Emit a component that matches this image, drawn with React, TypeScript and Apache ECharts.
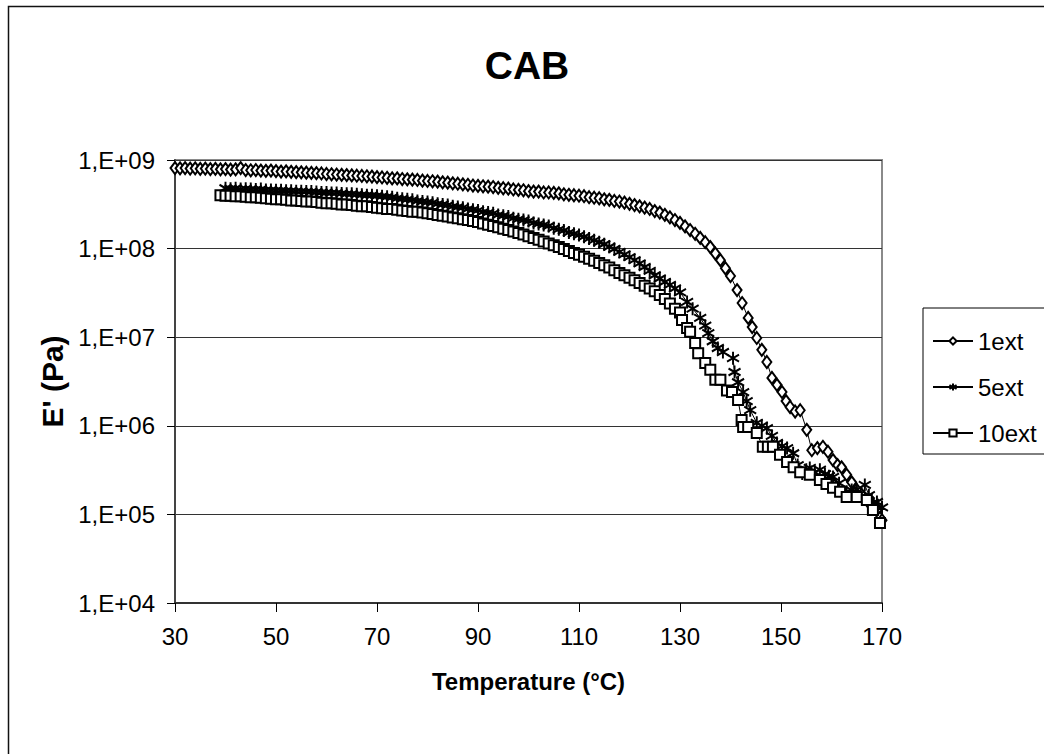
import React, { useEffect, useRef } from 'react';
import * as echarts from 'echarts';

const xTickValues = [30, 50, 70, 90, 110, 130, 150, 170];
const yTickValues = [1e4, 1e5, 1e6, 1e7, 1e8, 1e9];
const yTickLabels = ['1,E+04', '1,E+05', '1,E+06', '1,E+07', '1,E+08', '1,E+09'];
const seriesNames = ['1ext', '5ext', '10ext'];

// [temperature °C, E' Pa]
const oneExt: [number, number][] = [
  [30, 8.1e8], [31, 8.05e8], [32, 8.1e8], [33, 8.0e8], [34, 8.05e8], [35, 7.95e8], [36, 8.0e8], [37, 7.9e8], [38, 7.95e8], [39, 7.85e8],
  [40, 7.9e8], [41, 7.8e8], [42, 7.85e8], [43, 8.1e8], [44, 7.7e8], [45, 7.65e8], [46, 7.7e8], [47, 7.6e8], [48, 7.55e8], [49, 7.6e8],
  [50, 7.5e8], [51, 7.4e8], [52, 7.45e8], [53, 7.35e8], [54, 7.3e8], [55, 7.25e8], [56, 7.2e8], [57, 7.15e8], [58, 7.1e8], [59, 7.05e8],
  [60, 6.95e8], [61, 6.9e8], [62, 6.85e8], [63, 6.8e8], [64, 6.75e8], [65, 6.7e8], [66, 6.65e8], [67, 6.6e8], [68, 6.55e8], [69, 6.5e8],
  [70, 6.4e8], [71, 6.35e8], [72, 6.3e8], [73, 6.2e8], [74, 6.2e8], [75, 6.1e8], [76, 6.05e8], [77, 6.0e8], [78, 5.95e8], [79, 5.85e8],
  [80, 5.8e8], [81, 5.75e8], [82, 5.7e8], [83, 5.6e8], [84, 5.55e8], [85, 5.45e8], [86, 5.4e8], [87, 5.3e8], [88, 5.25e8], [89, 5.15e8],
  [90, 5.1e8], [91, 5.05e8], [92, 5.0e8], [93, 4.95e8], [94, 4.85e8], [95, 4.8e8], [96, 4.75e8], [97, 4.65e8], [98, 4.6e8], [99, 4.55e8],
  [100, 4.45e8], [101, 4.4e8], [102, 4.4e8], [103, 4.3e8], [104, 4.3e8], [105, 4.25e8], [106, 4.2e8], [107, 4.1e8], [108, 4.05e8], [109, 4.0e8],
  [110, 3.95e8], [111, 3.9e8], [112, 3.8e8], [113, 3.75e8], [114, 3.7e8], [115, 3.6e8], [116, 3.55e8], [117, 3.45e8], [118, 3.4e8], [119, 3.3e8],
  [120, 3.2e8], [121, 3.1e8], [122, 3.0e8], [123, 2.9e8], [124, 2.8e8], [125, 2.65e8], [126, 2.55e8], [127, 2.4e8], [128, 2.25e8], [129, 2.1e8],
  [130, 1.95e8], [131, 1.78e8], [132, 1.62e8], [133, 1.47e8], [134, 1.32e8], [135, 1.18e8], [136, 1.04e8], [137, 8.8e7], [138, 7.4e7], [139, 6.0e7],
  [140, 4.9e7], [141.3, 3.4e7], [142.3, 2.43e7], [143.5, 1.65e7], [144.3, 1.3e7], [145.2, 9.8e6], [146.2, 7.2e6], [147.2, 5.25e6], [148.2, 3.47e6], [149.2, 2.9e6],
  [150.2, 2.41e6], [151, 1.9e6], [151.8, 1.63e6], [152.8, 1.45e6], [153.8, 1.5e6], [155.1, 9.0e5], [156.1, 5.3e5], [157.2, 5.6e5], [158.3, 5.8e5], [159.3, 5.1e5],
  [160.3, 4.1e5], [161.2, 3.6e5], [162, 3.4e5], [163, 2.8e5], [164, 2.3e5], [165, 1.9e5], [166, 1.66e5], [167, 1.45e5], [168, 1.28e5], [169, 1.12e5],
  [169.6, 9.1e4], [170, 8.6e4],
];

const fiveExt: [number, number][] = [
  [40, 4.8e8], [41, 4.75e8], [42, 4.8e8], [43, 4.7e8], [44, 4.75e8], [45, 4.7e8], [46, 4.65e8], [47, 4.7e8], [48, 4.6e8], [49, 4.6e8],
  [50, 4.55e8], [51, 4.55e8], [52, 4.5e8], [53, 4.5e8], [54, 4.45e8], [55, 4.45e8], [56, 4.4e8], [57, 4.4e8], [58, 4.35e8], [59, 4.3e8],
  [60, 4.3e8], [61, 4.25e8], [62, 4.25e8], [63, 4.2e8], [64, 4.15e8], [65, 4.15e8], [66, 4.1e8], [67, 4.05e8], [68, 4.0e8], [69, 4.0e8],
  [70, 3.95e8], [71, 3.9e8], [72, 3.85e8], [73, 3.8e8], [74, 3.7e8], [75, 3.65e8], [76, 3.6e8], [77, 3.55e8], [78, 3.45e8], [79, 3.4e8],
  [80, 3.35e8], [81, 3.3e8], [82, 3.2e8], [83, 3.15e8], [84, 3.1e8], [85, 3.0e8], [86, 2.95e8], [87, 2.9e8], [88, 2.8e8], [89, 2.75e8],
  [90, 2.7e8], [91, 2.6e8], [92, 2.55e8], [93, 2.5e8], [94, 2.4e8], [95, 2.35e8], [96, 2.3e8], [97, 2.2e8], [98, 2.15e8], [99, 2.1e8],
  [100, 2.05e8], [101, 1.95e8], [102, 1.9e8], [103, 1.85e8], [104, 1.8e8], [105, 1.7e8], [106, 1.65e8], [107, 1.6e8], [108, 1.52e8], [109, 1.47e8],
  [110, 1.42e8], [111, 1.36e8], [112, 1.3e8], [113, 1.24e8], [114, 1.18e8], [115, 1.12e8], [116, 1.05e8], [117, 9.9e7], [118, 9.2e7], [119, 8.6e7],
  [120, 8.0e7], [121, 7.4e7], [122, 6.8e7], [123, 6.2e7], [124, 5.6e7], [125, 5.0e7], [126, 4.6e7], [127, 4.2e7], [128, 3.9e7], [129, 3.55e7],
  [130, 3.2e7], [131.4, 2.5e7], [132.5, 2.1e7], [134, 1.65e7], [135, 1.35e7], [135.6, 1.11e7], [136.5, 9.0e6], [137.5, 7.55e6], [138.5, 6.8e6], [140.5, 5.8e6],
  [140.8, 4.05e6], [141.5, 3.1e6], [142.5, 2.4e6], [143.2, 1.9e6], [143.9, 1.5e6], [145.2, 1.08e6], [146.2, 1.0e6], [147.2, 9.4e5], [148.2, 7.7e5], [149.2, 6.4e5],
  [150.2, 5.9e5], [151.2, 5.6e5], [152.4, 4.9e5], [153.3, 3.6e5], [154.2, 2.9e5], [155, 3.2e5], [155.7, 3.35e5], [156.7, 3.0e5], [157.7, 3.2e5], [158.7, 2.85e5],
  [159.5, 2.7e5], [160.3, 2.65e5], [161.5, 2.25e5], [163, 1.8e5], [164, 1.88e5], [165, 1.9e5], [166.6, 2.15e5], [167.4, 1.65e5], [168.2, 1.35e5], [169, 1.38e5],
  [170, 1.2e5],
];

const tenExt: [number, number][] = [
  [39, 4.0e8], [40, 3.95e8], [41, 3.95e8], [42, 3.9e8], [43, 3.9e8], [44, 3.85e8], [45, 3.8e8], [46, 3.8e8], [47, 3.75e8], [48, 3.7e8], [49, 3.65e8],
  [50, 3.6e8], [51, 3.6e8], [52, 3.55e8], [53, 3.5e8], [54, 3.5e8], [55, 3.45e8], [56, 3.4e8], [57, 3.4e8], [58, 3.35e8], [59, 3.3e8],
  [60, 3.25e8], [61, 3.25e8], [62, 3.2e8], [63, 3.15e8], [64, 3.15e8], [65, 3.1e8], [66, 3.05e8], [67, 3.0e8], [68, 3.0e8], [69, 2.95e8],
  [70, 2.9e8], [71, 2.85e8], [72, 2.8e8], [73, 2.8e8], [74, 2.75e8], [75, 2.7e8], [76, 2.65e8], [77, 2.6e8], [78, 2.6e8], [79, 2.55e8],
  [80, 2.5e8], [81, 2.45e8], [82, 2.4e8], [83, 2.35e8], [84, 2.3e8], [85, 2.25e8], [86, 2.2e8], [87, 2.15e8], [88, 2.1e8], [89, 2.05e8],
  [90, 2.0e8], [91, 1.92e8], [92, 1.86e8], [93, 1.8e8], [94, 1.74e8], [95, 1.68e8], [96, 1.62e8], [97, 1.56e8], [98, 1.5e8], [99, 1.44e8],
  [100, 1.38e8], [101, 1.32e8], [102, 1.26e8], [103, 1.2e8], [104, 1.14e8], [105, 1.09e8], [106, 1.04e8], [107, 9.9e7], [108, 9.4e7], [109, 8.9e7],
  [110, 8.5e7], [111, 8.1e7], [112, 7.7e7], [113, 7.3e7], [114, 6.9e7], [115, 6.5e7], [116, 6.1e7], [117, 5.7e7], [118, 5.3e7], [119, 5.0e7],
  [120, 4.7e7], [121, 4.4e7], [122, 4.1e7], [123, 3.8e7], [124, 3.55e7], [125, 3.3e7], [126, 3.0e7], [127, 2.7e7], [128, 2.4e7], [129, 2.1e7],
  [130, 1.9e7], [130.4, 1.56e7], [131.4, 1.27e7], [132, 1.15e7], [133, 8.6e6], [133.6, 6.6e6], [135, 5.1e6], [136, 4.3e6], [137, 3.3e6], [138, 3.3e6],
  [139.3, 2.5e6], [140.3, 2.4e6], [141.5, 1.95e6], [142.2, 1.16e6], [142.5, 9.7e5], [143.5, 9.7e5], [145.2, 8.3e5], [146.4, 5.8e5], [147.4, 5.8e5], [148.4, 5.8e5],
  [149.8, 4.7e5], [151.2, 3.9e5], [152.5, 3.4e5], [153.8, 3.0e5], [155.7, 2.8e5], [157.7, 2.45e5], [159, 2.2e5], [160.3, 2.0e5], [161.7, 1.8e5], [163, 1.57e5],
  [165, 1.57e5], [167, 1.45e5], [168.2, 1.12e5], [169.6, 8.0e4],
];

const FONT = 'Liberation Sans';
const STAR = 'path://M5 0L5 10M0.7 2.3L9.3 7.7M0.7 7.7L9.3 2.3';

export default function App() {
  const ref = useRef<HTMLDivElement>(null);
  useEffect(() => {
    if (!ref.current) return;
    const chart = echarts.init(ref.current, null, { renderer: 'svg' });
    const common = {
      type: 'line',
      showAllSymbol: true,
      lineStyle: { color: '#000', width: 1 },
      emphasis: { disabled: true },
    };
    chart.setOption({
      animation: false,
      backgroundColor: '#fff',
      textStyle: { fontFamily: FONT },
      graphic: [
        {
          type: 'rect',
          shape: { x: 8.5, y: 6.5, width: 1200, height: 1000 },
          style: { fill: 'none', stroke: '#111', lineWidth: 1.5 },
          silent: true,
        },
        {
          type: 'text',
          x: 527,
          y: 65,
          style: {
            text: 'CAB',
            font: `bold 39px ${FONT}`,
            fill: '#000',
            textAlign: 'center',
            textVerticalAlign: 'middle',
          },
        },
      ],
      grid: {
        left: 175,
        top: 160,
        right: 162,
        bottom: 151,
        show: true,
        borderColor: '#8a8a8a',
        borderWidth: 2,
        backgroundColor: '#fff',
      },
      legend: {
        data: seriesNames,
        orient: 'vertical',
        left: 923,
        top: 308,
        padding: [20, 12, 8, 9],
        itemWidth: 40,
        itemHeight: 9,
        itemGap: 20,
        borderColor: '#000',
        borderWidth: 1,
        backgroundColor: '#fff',
        selectedMode: false,
        textStyle: { fontFamily: FONT, fontSize: 24, color: '#000', lineHeight: 26 },
      },
      xAxis: {
        type: 'value',
        min: 30,
        max: 170,
        interval: 20,
        name: 'Temperature (°C)',
        nameLocation: 'middle',
        nameGap: 66,
        nameTextStyle: { fontFamily: FONT, fontSize: 24, fontWeight: 'bold', color: '#000' },
        axisLine: { show: true, onZero: false, lineStyle: { color: '#333', width: 2 } },
        axisTick: { show: true, inside: false, length: 9, lineStyle: { color: '#000', width: 1 } },
        axisLabel: {
          show: true,
          margin: 21,
          fontFamily: FONT,
          fontSize: 24,
          color: '#000',
          customValues: xTickValues,
        },
        splitLine: { show: false },
      },
      yAxis: {
        type: 'log',
        logBase: 10,
        min: 1e4,
        max: 1e9,
        name: "E' (Pa)",
        nameLocation: 'middle',
        nameGap: 107,
        nameTextStyle: { fontFamily: FONT, fontSize: 30, fontWeight: 'bold', color: '#000' },
        axisLine: { show: true, lineStyle: { color: '#444', width: 2 } },
        axisTick: { show: true, inside: false, length: 8, lineStyle: { color: '#000', width: 1 } },
        axisLabel: {
          show: true,
          margin: 20,
          fontFamily: FONT,
          fontSize: 24,
          color: '#000',
          formatter: (v: number) => {
            const i = yTickValues.findIndex((t) => Math.abs(Math.log10(t) - Math.log10(v)) < 1e-6);
            return i >= 0 ? yTickLabels[i] : '';
          },
        },
        splitLine: { show: true, lineStyle: { color: '#333', width: 1 } },
      },
      series: [
        {
          ...common,
          name: seriesNames[0],
          data: oneExt,
          symbol: 'diamond',
          symbolSize: [9, 12],
          itemStyle: { color: '#fff', borderColor: '#000', borderWidth: 2 },
        },
        {
          ...common,
          name: seriesNames[1],
          data: fiveExt,
          symbol: STAR,
          symbolSize: [12, 13],
          itemStyle: { color: '#000', borderColor: '#000', borderWidth: 2 },
        },
        {
          ...common,
          name: seriesNames[2],
          data: tenExt,
          symbol: 'rect',
          symbolSize: 10,
          itemStyle: { color: '#fff', borderColor: '#000', borderWidth: 2 },
        },
      ],
    });
    return () => chart.dispose();
  }, []);
  return (
    <div
      ref={ref}
      style={{ position: 'absolute', left: 0, top: 0, width: 1044, height: 754, background: '#fff' }}
    />
  );
}
